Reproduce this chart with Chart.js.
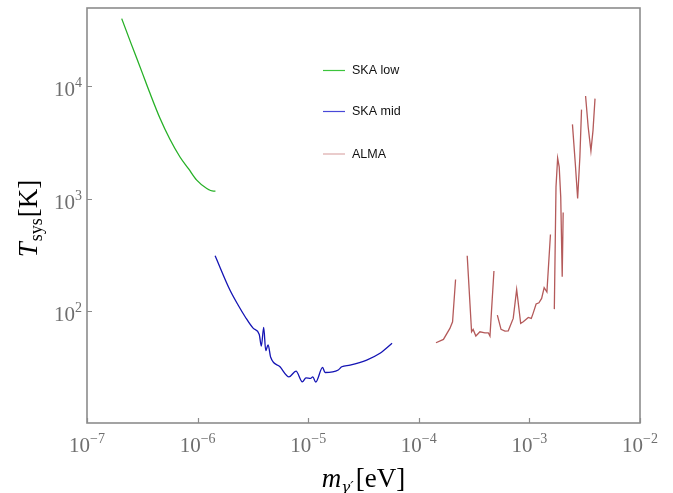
<!DOCTYPE html>
<html>
<head>
<meta charset="utf-8">
<script src="https://cdn.jsdelivr.net/npm/chart.js@4/dist/chart.umd.min.js"></script>
<style>
  body { margin: 0; background: #fff; }
  #wrap { width: 673px; height: 493px; }
</style>
</head>
<body>
<div id="wrap"><canvas id="myChart" width="673" height="493"></canvas></div>
<script>
// values (mass in eV, T_sys in K); null = break in curve
const skaLowMass = [2.06e-7, 2.5e-7, 3.13e-7, 3.72e-7, 4.57e-7, 5.62e-7, 6.93e-7, 8.3e-7, 9.82e-7, 1.21e-6, 1.39e-6, 1.45e-6]
const skaLowTemp = [40200, 24200, 13550, 8630, 5200, 3380, 2350, 1837, 1460, 1230, 1164, 1165]

const skaMidMass = [1.44e-6, 1.96e-6, 2.33e-6, 2.69e-6, 3.19e-6, 3.61e-6, 3.77e-6, 3.96e-6, 4.13e-6, 4.34e-6, 4.58e-6,
    5.56e-6, 6.70e-6, 7.76e-6, 8.85e-6, 9.55e-6, 1.05e-5, 1.10e-5, 1.17e-5, 1.35e-5, 1.42e-5,
    1.87e-5, 2.01e-5, 2.39e-5, 3.38e-5, 4.46e-5, 5.73e-5]
const skaMidTemp = [309, 153, 112, 88.5, 69.7, 61.6, 48.5, 71.1, 44.1, 49.8, 38.5,
    31.7, 25.8, 29.0, 23.3, 25.2, 25.0, 25.8, 23.2, 31.3, 28.2,
    29.7, 31.7, 32.8, 36.4, 41.8, 51.3]

const almaMass = [1.43e-4, 1.67e-4, 1.91e-4, 2.02e-4, 2.15e-4, 2.4e-4,
    2.74e-4, 3.00e-4, 3.10e-4, 3.28e-4, 3.57e-4, 3.96e-4, 4.25e-4, 4.40e-4, 4.78e-4, 4.95e-4,
    5.13e-4, 5.54e-4, 6.01e-4, 6.44e-4, 7.14e-4, 7.67e-4, 8.34e-4, 8.80e-4, 9.77e-4, 1.04e-3,
    1.08e-3, 1.15e-3, 1.22e-3, 1.29e-3, 1.36e-3, 1.44e-3, 1.55e-3, 1.6e-3,
    1.68e-3, 1.74e-3, 1.80e-3, 1.86e-3, 1.92e-3, 1.98e-3, 2.02e-3, 2.2e-3,
    2.45e-3, 2.60e-3, 2.73e-3, 2.86e-3, 2.96e-3, 3.1e-3,
    3.22e-3, 3.40e-3, 3.60e-3, 3.76e-3, 3.92e-3]
const almaTemp = [51.9, 55.6, 69.7, 79.8, 190, null,
    309, 65.0, 68.3, 59.6, 65.0, 63.7, 63.7, 59.6, 226, null,
    91.6, 68.3, 65.9, 66.3, 85.5, 155, 77.3, 79.8, 87.3, 85.5,
    94.9, 115, 118, 129, 161, 147, 478, null,
    103.5, 1271, 2300, 1920, 1035, 201, 752, null,
    4590, 2055, 1002, 2350, 6210, null,
    8220, 4350, 2660, 4060, 7780]

const seriesNames = ["SKA low", "SKA mid", "ALMA"]
const seriesColors = ["#26b026", "#1414b4", "#b45a5a"]
const legendColors = ["#3cc43c", "#4848d8", "#dcaaaa"]

const xTicks = [1e-7, 1e-6, 1e-5, 1e-4, 1e-3, 1e-2]
const xTickExp = ["\u22127", "\u22126", "\u22125", "\u22124", "\u22123", "\u22122"]
const yTicks = [1e2, 1e3, 1e4]
const yTickExp = ["2", "3", "4"]

function points(xs, ys) {
    return xs.map((x, i) => ({ x: x, y: ys[i] }))
}

function drawRich(ctx, parts, x, y, align) {
    let total = 0
    parts.forEach(p => { ctx.font = p.font; total += ctx.measureText(p.text).width + (p.gap || 0) })
    let cx = align === "right" ? x - total : x - total / 2
    ctx.textAlign = "left"
    ctx.textBaseline = "alphabetic"
    parts.forEach(p => {
        ctx.font = p.font
        ctx.fillStyle = p.color
        ctx.fillText(p.text, cx, y + (p.dy || 0))
        cx += ctx.measureText(p.text).width + (p.gap || 0)
    })
}

const decor = {
    id: "decor",
    beforeDatasetsDraw(chart) {
        const ctx = chart.ctx
        const a = chart.chartArea
        const xs = chart.scales.x
        const ys = chart.scales.y
        ctx.save()
        ctx.strokeStyle = "#8c8c8c"
        ctx.lineWidth = 1.6
        ctx.strokeRect(a.left, a.top, a.right - a.left, a.bottom - a.top)
        ctx.lineWidth = 1.2
        ctx.beginPath()
        xTicks.forEach(v => {
            const px = Math.round(xs.getPixelForValue(v)) + 0.5
            ctx.moveTo(px, a.bottom)
            ctx.lineTo(px, a.bottom - 5)
        })
        yTicks.forEach(v => {
            const py = Math.round(ys.getPixelForValue(v)) + 0.5
            ctx.moveTo(a.left, py)
            ctx.lineTo(a.left + 5, py)
        })
        ctx.stroke()
        ctx.restore()
    },
    afterDraw(chart) {
        const ctx = chart.ctx
        const a = chart.chartArea
        const xs = chart.scales.x
        const ys = chart.scales.y
        const serif = '"Liberation Serif", "DejaVu Serif", serif'
        const grey = "#6e6e6e"
        ctx.save()
        // tick labels
        xTicks.forEach((v, i) => {
            const px = xs.getPixelForValue(v)
            drawRich(ctx, [
                { text: "10", font: "21px " + serif, color: grey },
                { text: xTickExp[i], font: "14px " + serif, color: grey, dy: -9 }
            ], px, a.bottom + 29, "center")
        })
        yTicks.forEach((v, i) => {
            const py = ys.getPixelForValue(v)
            drawRich(ctx, [
                { text: "10", font: "21px " + serif, color: grey },
                { text: yTickExp[i], font: "14px " + serif, color: grey, dy: -9 }
            ], a.left - 5, py + 10, "right")
        })
        // axis titles
        drawRich(ctx, [
            { text: "m", font: "italic 27px " + serif, color: "#000" },
            { text: "\u03b3\u2032", font: 'italic 15px "DejaVu Serif", serif', color: "#000", dy: 5, gap: 2 },
            { text: "[eV]", font: "27px " + serif, color: "#000" }
        ], (a.left + a.right) / 2, 487, "center")
        ctx.save()
        ctx.translate(37, (a.top + a.bottom) / 2 + 3)
        ctx.rotate(-Math.PI / 2)
        drawRich(ctx, [
            { text: "T", font: "italic 27px " + serif, color: "#000", gap: 1 },
            { text: "sys", font: "18px " + serif, color: "#000", dy: 5, gap: 1 },
            { text: "[K]", font: "27px " + serif, color: "#000" }
        ], 0, 0, "center")
        ctx.restore()
        // legend inside the plot
        const legendY = [70.5, 111.5, 154]
        seriesNames.forEach((name, i) => {
            ctx.strokeStyle = legendColors[i]
            ctx.lineWidth = 1.2
            ctx.beginPath()
            ctx.moveTo(323, legendY[i])
            ctx.lineTo(345, legendY[i])
            ctx.stroke()
            ctx.fillStyle = "#111"
            ctx.font = '12.5px "Liberation Sans", Arial, sans-serif'
            ctx.textAlign = "left"
            ctx.textBaseline = "middle"
            ctx.fillText(name, 352, legendY[i] + 0.5)
        })
        ctx.restore()
    }
}

function main() {
    const ctx = document.getElementById("myChart")
    const massData = [skaLowMass, skaMidMass, almaMass]
    const tempData = [skaLowTemp, skaMidTemp, almaTemp]

    new Chart(ctx, {
        type: "line",
        data: {
            datasets: seriesNames.map((name, i) => ({
                label: name,
                data: points(massData[i], tempData[i]),
                borderColor: seriesColors[i],
                borderWidth: 1.3,
                pointRadius: 0,
                fill: false,
                spanGaps: false,
                cubicInterpolationMode: i < 2 ? "monotone" : "default",
                tension: 0,
            })),
        },
        options: {
            responsive: false,
            animation: false,
            devicePixelRatio: 1,
            layout: { padding: { left: 87, right: 33, top: 8, bottom: 70 } },
            plugins: { legend: { display: false }, tooltip: { enabled: false } },
            scales: {
                x: { type: "logarithmic", min: 1e-7, max: 1e-2, display: false },
                y: { type: "logarithmic", min: 10, max: 5e4, display: false },
            },
        },
        plugins: [decor],
    })
}

document.addEventListener("DOMContentLoaded", main)
</script>
</body>
</html>
